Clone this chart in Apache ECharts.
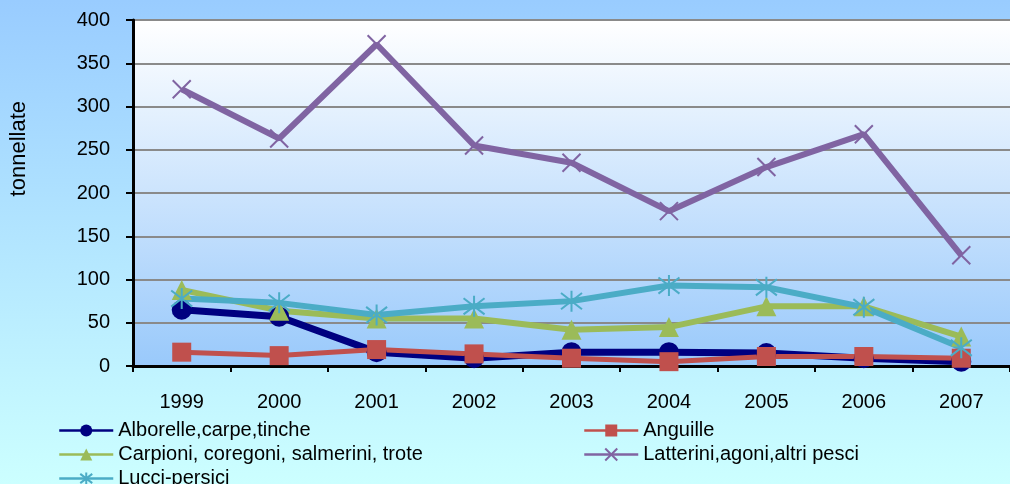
<!DOCTYPE html>
<html>
<head>
<meta charset="utf-8">
<script src="https://cdn.jsdelivr.net/npm/echarts@6/dist/echarts.min.js"></script>
<style>
  html, body { margin: 0; padding: 0; }
  #chart { width: 1010px; height: 484px; }
</style>
</head>
<body>
<div id="chart"></div>
<script>
// anni
const years = ['1999', '2000', '2001', '2002', '2003', '2004', '2005', '2006', '2007']
const yTicks = { min: 0, max: 400, step: 50 }

// tonnellate per gruppo
const alborelle = [65, 57, 16, 9, 16, 16, 15, 9, 5]
const anguille = [16, 12, 19, 14, 9, 5, 11, 11, 9]
const carpioni = [88, 64, 55, 55, 42, 45, 69, 69, 34]
const latterini = [320, 263, 372, 255, 235, 179, 230, 268, 128]
const lucci = [78, 73, 59, 69, 75, 93, 91, 68, 21]

const names = [
  'Alborelle,carpe,tinche',
  'Anguille',
  'Carpioni, coregoni, salmerini, trote',
  'Latterini,agoni,altri pesci',
  'Lucci-persici'
]

const FONT = 'Arial, "Liberation Sans", sans-serif'
const crossPath = 'path://M0,0L10,10M10,0L0,10'
const starPath = 'path://M0,1.5L10,11.5M10,1.5L0,11.5M5,0L5,13'

function grad(top, bottom) {
  return {
    type: 'linear', x: 0, y: 0, x2: 0, y2: 1,
    colorStops: [{ offset: 0, color: top }, { offset: 1, color: bottom }]
  }
}

function line(name, data, color, width, symbol, size, extra) {
  return Object.assign({
    name, type: 'line', data, symbol, symbolSize: size,
    lineStyle: { color, width },
    itemStyle: { color, borderColor: color, borderWidth: 0 },
    emphasis: { disabled: true }, animation: false
  }, extra || {})
}

function legendCol(data, left) {
  return {
    data, orient: 'vertical', left, top: 415, height: 90,
    itemWidth: 54, itemHeight: 15, itemGap: 3,
    textStyle: { fontSize: 20, color: '#000', lineHeight: 21, fontFamily: FONT },
    lineStyle: { width: 2.5 }
  }
}

const chart = echarts.init(document.getElementById('chart'))
chart.setOption({
  backgroundColor: grad('#99ccff', '#ccffff'),
  textStyle: { fontFamily: FONT },
  grid: {
    left: 133, right: -6, top: 20, bottom: 118, show: true,
    backgroundColor: grad('#ffffff', '#99c9fb'), borderWidth: 0
  },
  legend: [
    legendCol([names[0], names[2], names[4]], 53),
    legendCol([names[1], names[3]], 578)
  ],
  graphic: [{
    type: 'text', left: 8, top: 101, rotation: Math.PI / 2,
    style: { text: 'tonnellate', font: '22px ' + FONT, fill: '#000' }
  }],
  xAxis: {
    type: 'category', data: years, boundaryGap: true,
    axisLine: { lineStyle: { color: '#000', width: 3 } },
    axisTick: { show: true, length: 6, lineStyle: { color: '#000', width: 2 } },
    axisLabel: { color: '#000', fontSize: 20, margin: 26, fontFamily: FONT }
  },
  yAxis: {
    type: 'value', min: yTicks.min, max: yTicks.max, interval: yTicks.step,
    axisLine: { show: true, lineStyle: { color: '#000', width: 3 } },
    axisTick: { show: true, length: 7, lineStyle: { color: '#000', width: 2 } },
    axisLabel: { color: '#000', fontSize: 20, margin: 23, fontFamily: FONT },
    splitLine: { lineStyle: { color: '#8a8a8a', width: 2 } }
  },
  series: [
    line(names[0], alborelle, '#000080', 7, 'circle', 20),
    line(names[1], anguille, '#c0504d', 5, 'rect', 19),
    line(names[2], carpioni, '#9bbb59', 6, 'triangle', 20),
    line(names[3], latterini, '#8064a2', 6, crossPath, 18,
      { itemStyle: { color: '#8064a2', borderColor: '#8064a2', borderWidth: 2 } }),
    line(names[4], lucci, '#4bacc6', 6, starPath, 21,
      { itemStyle: { color: '#4bacc6', borderColor: '#4bacc6', borderWidth: 2 } })
  ]
})
</script>
</body>
</html>
